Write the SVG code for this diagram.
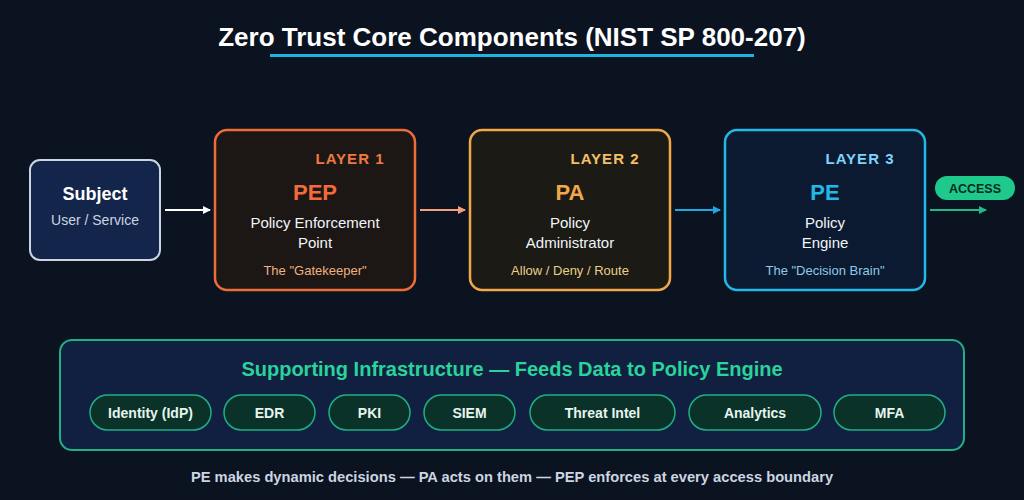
<svg xmlns="http://www.w3.org/2000/svg" width="1024" height="500" viewBox="0 0 1024 500">
<style>
text{font-family:"Liberation Sans",Arial,sans-serif}
.b{font-weight:bold}
.layer{font-size:15px;font-weight:bold;text-anchor:middle;letter-spacing:1px}
.abbr{font-size:22px;font-weight:bold;text-anchor:middle}
.name{font-size:15px;fill:#f1f5f9;text-anchor:middle}
.tag{font-size:13px;text-anchor:middle}
.pill rect{fill:#0a3228;stroke:#1fae86;stroke-width:1.5}
.pill text{font-size:14px;font-weight:bold;fill:#e6f4ee;text-anchor:middle}
.conn line{stroke-width:2}
</style>
<defs>
<marker id="aw" markerWidth="8" markerHeight="8" refX="7" refY="4" orient="auto" markerUnits="userSpaceOnUse"><path d="M0,0L8,4L0,8z" fill="#ffffff"/></marker>
<marker id="ao" markerWidth="8" markerHeight="8" refX="7" refY="4" orient="auto" markerUnits="userSpaceOnUse"><path d="M0,0L8,4L0,8z" fill="#f4a07a"/></marker>
<marker id="ab" markerWidth="8" markerHeight="8" refX="7" refY="4" orient="auto" markerUnits="userSpaceOnUse"><path d="M0,0L8,4L0,8z" fill="#1fa8e0"/></marker>
<marker id="ag" markerWidth="8" markerHeight="8" refX="7" refY="4" orient="auto" markerUnits="userSpaceOnUse"><path d="M0,0L8,4L0,8z" fill="#1fb98a"/></marker>
</defs>
<rect width="1024" height="500" fill="#0b1220"/>
<g id="title">
<text x="512" y="46" text-anchor="middle" font-size="26" class="b" fill="#ffffff">Zero Trust Core Components (NIST SP 800-207)</text>
<rect x="270" y="54" width="484" height="3" fill="#1cb5e0"/>
</g>
<g id="subject">
<rect x="30" y="160" width="130" height="100" rx="10" fill="#13254a" stroke="#cbd5e1" stroke-width="2"/>
<text x="95" y="200" text-anchor="middle" font-size="18" class="b" fill="#ffffff">Subject</text>
<text x="95" y="225" text-anchor="middle" font-size="14" fill="#cbd5e1">User / Service</text>
</g>
<g id="pep">
<rect x="215" y="130" width="200" height="160" rx="12" fill="#1c1714" stroke="#ee6c38" stroke-width="2.5"/>
<text x="350" y="164" class="layer" fill="#ee7a40">LAYER 1</text>
<text x="315" y="200" class="abbr" fill="#f26b3a">PEP</text>
<text x="315" y="228" class="name">Policy Enforcement</text>
<text x="315" y="248" class="name">Point</text>
<text x="315" y="275" class="tag" fill="#f0b080">The "Gatekeeper"</text>
</g>
<g id="pa">
<rect x="470" y="130" width="200" height="160" rx="12" fill="#1c1a14" stroke="#f0a848" stroke-width="2.5"/>
<text x="605" y="164" class="layer" fill="#f3c068">LAYER 2</text>
<text x="570" y="200" class="abbr" fill="#f0a848">PA</text>
<text x="570" y="228" class="name">Policy</text>
<text x="570" y="248" class="name">Administrator</text>
<text x="570" y="275" class="tag" fill="#e8d08a">Allow / Deny / Route</text>
</g>
<g id="pe">
<rect x="725" y="130" width="200" height="160" rx="12" fill="#0b1a30" stroke="#22b8e8" stroke-width="2.5"/>
<text x="860" y="164" class="layer" fill="#7dd3fc">LAYER 3</text>
<text x="825" y="200" class="abbr" fill="#22b8e8">PE</text>
<text x="825" y="228" class="name">Policy</text>
<text x="825" y="248" class="name">Engine</text>
<text x="825" y="275" class="tag" fill="#8ecae6">The "Decision Brain"</text>
</g>
<g id="access">
<rect x="935" y="176" width="80" height="24" rx="12" fill="#1ec98b"/>
<text x="975" y="193" text-anchor="middle" font-size="12.5" class="b" fill="#062a1e">ACCESS</text>
</g>
<g id="connectors" class="conn">
<line x1="165" y1="210" x2="210" y2="210" stroke="#ffffff" marker-end="url(#aw)"/>
<line x1="420" y1="210" x2="465" y2="210" stroke="#f4a07a" marker-end="url(#ao)"/>
<line x1="675" y1="210" x2="720" y2="210" stroke="#1fa8e0" marker-end="url(#ab)"/>
<line x1="930" y1="210" x2="986" y2="210" stroke="#1fb98a" marker-end="url(#ag)"/>
</g>
<g id="infrastructure">
<rect x="60" y="340" width="904" height="110" rx="12" fill="#112040" stroke="#1fae86" stroke-width="2"/>
<text x="512" y="376" text-anchor="middle" font-size="20" class="b" fill="#2ad39a">Supporting Infrastructure — Feeds Data to Policy Engine</text>
</g>
<g id="idp" class="pill"><rect x="90" y="395" width="121" height="35" rx="17.5"/><text x="150.5" y="418">Identity (IdP)</text></g>
<g id="edr" class="pill"><rect x="224" y="395" width="91" height="35" rx="17.5"/><text x="269.5" y="418">EDR</text></g>
<g id="pki" class="pill"><rect x="329" y="395" width="81" height="35" rx="17.5"/><text x="369.5" y="418">PKI</text></g>
<g id="siem" class="pill"><rect x="424" y="395" width="91" height="35" rx="17.5"/><text x="469.5" y="418">SIEM</text></g>
<g id="threat" class="pill"><rect x="530" y="395" width="145" height="35" rx="17.5"/><text x="602.5" y="418">Threat Intel</text></g>
<g id="analytics" class="pill"><rect x="689" y="395" width="132" height="35" rx="17.5"/><text x="755" y="418">Analytics</text></g>
<g id="mfa" class="pill"><rect x="834" y="395" width="111" height="35" rx="17.5"/><text x="889.5" y="418">MFA</text></g>
<g id="footer">
<text x="512" y="482" text-anchor="middle" font-size="14.7" class="b" fill="#cbd5e1">PE makes dynamic decisions — PA acts on them — PEP enforces at every access boundary</text>
</g>
</svg>
